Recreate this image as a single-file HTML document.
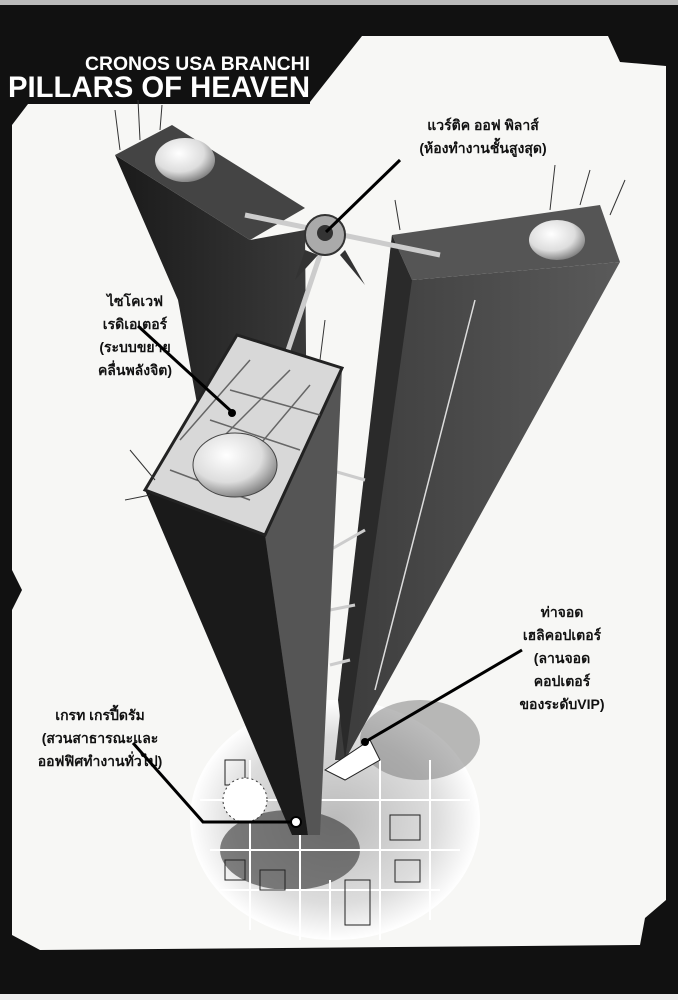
<!DOCTYPE html>
<html><head><meta charset="utf-8"><style>
html,body{margin:0;padding:0;background:#fff;}
svg{display:block;}
text{font-family:"Liberation Sans","Noto Sans CJK SC",sans-serif;font-weight:bold;}
</style></head><body>
<svg width="678" height="1000" viewBox="0 0 678 1000" xmlns="http://www.w3.org/2000/svg">
<defs>
<linearGradient id="dk" x1="0" y1="0" x2="1" y2="0"><stop offset="0" stop-color="#1a1a1a"/><stop offset="1" stop-color="#3a3a3a"/></linearGradient>
<linearGradient id="md" x1="0" y1="0" x2="1" y2="0"><stop offset="0" stop-color="#3c3c3c"/><stop offset="1" stop-color="#5a5a5a"/></linearGradient>
<radialGradient id="dome" cx="0.4" cy="0.35" r="0.7"><stop offset="0" stop-color="#fff"/><stop offset="0.6" stop-color="#ddd"/><stop offset="1" stop-color="#777"/></radialGradient>
<radialGradient id="city" cx="0.5" cy="0.5" r="0.5"><stop offset="0" stop-color="#bbb"/><stop offset="0.7" stop-color="#ddd"/><stop offset="1" stop-color="#fff"/></radialGradient>
</defs>
<rect width="678" height="1000" fill="#111"/>
<rect x="0" y="994" width="678" height="6" fill="#eee"/>
<rect x="0" y="0" width="678" height="5" fill="#bbb"/>
<polygon fill="#f7f7f5" points="362,36 608,36 620,62 666,66 666,900 645,918 640,945 40,950 12,935 12,610 22,590 12,570 12,125 28,104 310,104 310,102"/>
<text x="85" y="70" fill="#fff" font-size="19" textLength="225" lengthAdjust="spacingAndGlyphs">CRONOS USA BRANCHI</text>
<text x="8" y="97" fill="#fff" font-size="30" textLength="302" lengthAdjust="spacingAndGlyphs">PILLARS OF HEAVEN</text>
<ellipse cx="335" cy="820" rx="145" ry="120" fill="url(#city)"/>
<ellipse cx="420" cy="740" rx="60" ry="40" fill="#777" opacity="0.5"/>
<ellipse cx="290" cy="850" rx="70" ry="40" fill="#333" opacity="0.6"/>
<g stroke="#fff" stroke-width="2" fill="none">
<path d="M200,800 L470,800 M210,850 L460,850 M220,890 L440,890 M250,760 L250,930 M300,760 L300,940 M380,760 L380,940 M430,760 L430,920 M330,880 L330,940"/>
</g>
<g stroke="#222" stroke-width="1" fill="none">
<rect x="390" y="815" width="30" height="25"/><rect x="395" y="860" width="25" height="22"/><rect x="345" y="880" width="25" height="45"/>
<rect x="225" y="860" width="20" height="20"/><rect x="260" y="870" width="25" height="20"/><rect x="225" y="760" width="20" height="25"/>
</g>
<circle cx="245" cy="800" r="22" fill="#fff" stroke="#333" stroke-dasharray="2 3"/>
<polygon fill="url(#dk)" points="115,155 250,240 305,230 310,830 295,830 200,420 178,300"/>
<polygon fill="#444" points="115,155 172,125 305,208 250,240"/>
<ellipse cx="185" cy="160" rx="30" ry="22" fill="url(#dome)"/>
<polygon fill="url(#md)" points="392,235 412,280 620,262 345,760 335,760"/>
<polygon fill="#2a2a2a" points="392,235 412,280 345,760 338,700"/>
<polygon fill="#555" points="392,235 600,205 620,262 412,280"/>
<ellipse cx="557" cy="240" rx="28" ry="20" fill="url(#dome)"/>
<line x1="475" y1="300" x2="375" y2="690" stroke="#ddd" stroke-width="1.5"/>
<g stroke="#ccc" stroke-width="3"><line x1="330" y1="470" x2="365" y2="480"/><line x1="330" y1="550" x2="365" y2="530"/><line x1="330" y1="610" x2="355" y2="605"/><line x1="330" y1="665" x2="350" y2="660"/></g>
<g stroke="#ccc" stroke-width="5"><line x1="245" y1="215" x2="440" y2="255"/><line x1="325" y1="240" x2="278" y2="380"/></g>
<circle cx="325" cy="235" r="20" fill="#aaa" stroke="#333" stroke-width="2"/>
<circle cx="325" cy="233" r="8" fill="#333"/>
<polygon fill="#333" points="305,250 295,280 318,255"/>
<polygon fill="#333" points="340,255 365,285 345,250"/>
<polygon fill="#1a1a1a" points="145,490 265,535 308,835 292,835"/>
<polygon fill="#555" points="265,535 342,368 320,835 308,835"/>
<polygon fill="#d8d8d8" stroke="#222" stroke-width="3" points="145,490 237,335 342,368 265,535"/>
<g stroke="#666" stroke-width="1.5" fill="none">
<path d="M180,440 L250,360 M200,460 L290,370 M230,480 L310,385 M170,470 L250,500 M210,420 L300,450 M230,390 L320,415"/>
</g>
<ellipse cx="235" cy="465" rx="42" ry="32" fill="url(#dome)" stroke="#444"/>
<polygon fill="#fff" stroke="#222" points="325,770 370,740 380,760 345,780"/>
<g stroke="#333" stroke-width="1">
<path d="M120,150 L115,110 M140,140 L138,100 M160,130 L162,105 M550,210 L555,165 M580,205 L590,170 M610,215 L625,180 M400,230 L395,200 M155,480 L130,450 M150,495 L125,500 M320,360 L325,320"/>
</g>
<g fill="#111" font-size="14" text-anchor="middle">
<text x="483" y="130">แวร์ติค ออฟ พิลาส์</text>
<text x="483" y="153">(ห้องทำงานชั้นสูงสุด)</text>
<text x="135" y="306">ไซโคเวฟ</text>
<text x="135" y="329">เรดิเอเตอร์</text>
<text x="135" y="352">(ระบบขยาย</text>
<text x="135" y="375">คลื่นพลังจิต)</text>
<text x="100" y="720">เกรท เกรปี้ดรัม</text>
<text x="100" y="743">(สวนสาธารณะและ</text>
<text x="100" y="766">ออฟฟิศทำงานทั่วไป)</text>
<text x="562" y="617">ท่าจอด</text>
<text x="562" y="640">เฮลิคอปเตอร์</text>
<text x="562" y="663">(ลานจอด</text>
<text x="562" y="686">คอปเตอร์</text>
<text x="562" y="709">ของระดับVIP)</text>
</g>
<g stroke="#000" stroke-width="3" fill="none">
<line x1="400" y1="160" x2="326" y2="232"/>
<line x1="138" y1="326" x2="232" y2="412"/>
<polyline points="133,743 203,822 292,822"/>
<line x1="522" y1="650" x2="365" y2="742"/>
</g>
<circle cx="232" cy="413" r="4" fill="#000"/>
<circle cx="296" cy="822" r="5" fill="#fff" stroke="#000" stroke-width="2"/>
<circle cx="365" cy="742" r="4" fill="#000"/>
</svg>
</body></html>
